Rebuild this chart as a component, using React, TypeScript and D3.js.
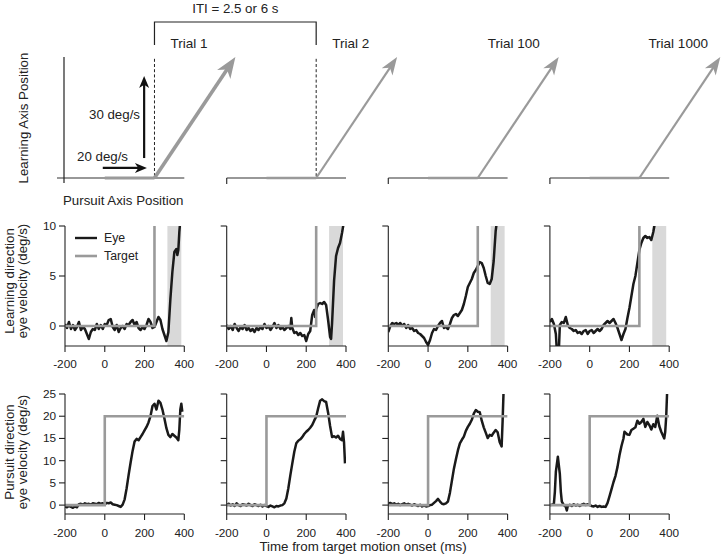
import React from 'react';
import * as d3 from 'd3';

// ---------- data ----------
const TIME_TICKS = [-200, 0, 200, 400];
const LEARN_TICKS = [0, 5, 10];
const PURSUIT_TICKS = [0, 5, 10, 15, 20, 25];
const TRIAL_LABELS = ['Trial 1', 'Trial 2', 'Trial 100', 'Trial 1000'];
const LEGEND_LABELS = ['Eye', 'Target'];
const TIME_DOMAIN = [-200, 400];
const LEARN_DOMAIN = [-2, 10];
const PURSUIT_DOMAIN = [-2, 25];
const SHADE_WINDOW = [315, 385];

// target velocity traces (ms, deg/s)
const targetLearn: [number, number][] = [[-200, 0], [250, 0], [250, 12]];
const targetPursuit: [number, number][] = [[-200, 0], [0, 0], [0, 20], [400, 20]];

// schematic (time ms, normalized position)
const schematicStepStart = 0;
const schematicStepEnd = 250;
const schematicArrowTip: [number, number] = [657, 1];

// learning-direction eye velocity, trials 1, 2, 100, 1000
const eyeLearn1: [number, number][] = [[-200,0.2],[-190,-0.2],[-180,0.4],[-170,-0.3],[-160,0.1],[-150,-0.4],[-140,-0.1],[-130,0.4],[-120,-0.4],[-110,-0.1],[-100,-0.3],[-90,-0.8],[-80,-1.3],[-70,-0.6],[-60,-0.3],[-50,-0.4],[-40,0.2],[-30,-0.3],[-20,0.1],[-10,-0.3],[0,0.2],[10,0.1],[20,0.6],[30,0.7],[40,-0.1],[50,-0.4],[60,0.1],[70,-0.6],[80,-0.2],[90,0],[100,-0.3],[110,0.2],[120,0.1],[130,0.4],[140,0.6],[150,0.1],[160,0.4],[170,-0.2],[180,-0.4],[190,-0.1],[200,-0.3],[210,0.1],[220,0.7],[230,0.4],[240,-0.2],[250,-0.1],[260,0.4],[270,0.9],[280,0.6],[290,-0.3],[300,-0.9],[310,-1.5],[320,-0.6],[330,2.7],[340,5.4],[350,7.4],[360,7.7],[365,7.1],[370,7.6],[375,9.4],[380,10.6]];
const eyeLearn2: [number, number][] = [[-200,0.1],[-190,-0.3],[-180,0.0],[-170,-0.4],[-160,0.2],[-150,-0.2],[-140,-0.5],[-130,-0.1],[-120,-0.3],[-110,0.1],[-100,-0.4],[-90,-0.2],[-80,-0.5],[-70,-0.3],[-60,-0.6],[-50,-0.2],[-40,-0.4],[-30,-0.1],[-20,-0.3],[-10,0.2],[0,-0.2],[10,0.0],[20,-0.4],[30,-0.1],[40,0.3],[50,-0.2],[60,0.1],[70,-0.3],[80,-0.1],[90,-0.4],[100,-0.2],[110,0.0],[120,-0.3],[125,0.8],[130,-0.2],[140,-0.7],[150,-0.6],[160,-0.9],[170,-0.7],[180,-1.0],[190,-0.9],[200,-1.5],[210,-0.8],[220,-0.5],[230,1.1],[240,1.6],[245,0.9],[250,1.7],[260,2.2],[270,2.3],[280,2.2],[290,2.4],[300,2.1],[310,0.6],[320,-1.1],[325,-1.3],[330,0.3],[340,4.5],[350,7.0],[360,7.8],[370,8.3],[380,9.3],[390,10.5]];
const eyeLearn100: [number, number][] = [[-200,-0.6],[-190,0.0],[-180,0.3],[-170,0.2],[-160,0.3],[-150,0.1],[-140,0.3],[-130,0.0],[-120,0.2],[-110,-0.2],[-100,0.1],[-90,-0.3],[-80,-0.2],[-70,-0.5],[-60,-0.4],[-50,-0.7],[-40,-0.8],[-30,-1.0],[-20,-1.2],[-10,-1.6],[0,-1.9],[10,-1.4],[20,-0.7],[30,-0.3],[40,-0.4],[50,0.0],[60,0.3],[70,0.5],[80,-0.2],[90,-0.1],[100,-0.3],[110,0.2],[120,0.8],[130,1.1],[140,1.2],[150,1.0],[160,1.3],[170,1.6],[180,2.2],[190,3.0],[200,3.9],[210,4.3],[220,4.7],[230,5.3],[240,5.6],[250,6.0],[260,6.4],[270,6.3],[280,5.8],[290,5.0],[300,4.3],[310,4.2],[320,4.7],[330,6.5],[340,9.5],[350,11]];
const eyeLearn1000: [number, number][] = [[-200,0.4],[-190,0.7],[-180,0.2],[-170,-0.8],[-165,-2.5],[-155,-2.5],[-150,0.1],[-140,0.4],[-130,0.3],[-120,0.9],[-110,0.1],[-100,-0.2],[-90,-0.3],[-80,-0.5],[-70,-0.4],[-60,-0.7],[-50,-0.6],[-40,-0.8],[-30,-0.5],[-20,-0.4],[-10,-0.8],[0,-0.5],[10,-0.4],[20,-0.7],[30,-0.5],[40,-0.3],[50,-0.5],[60,-0.3],[70,0.1],[80,0.3],[90,0.5],[100,0.3],[110,0.5],[120,0.7],[130,0.3],[140,-0.2],[150,-0.8],[160,-1.4],[170,-0.8],[180,-0.3],[190,0.8],[200,1.8],[210,3.0],[220,4.2],[230,5.0],[240,6.3],[250,7.6],[260,8.3],[270,8.8],[280,9.0],[290,8.8],[300,8.9],[310,8.6],[320,9.4],[330,10.5]];

// pursuit-direction eye velocity, trials 1, 2, 100, 1000
const eyePursuit1: [number, number][] = [[-200,-0.3],[-190,-0.5],[-180,-0.2],[-170,-0.4],[-160,-0.6],[-150,-0.3],[-140,-0.5],[-130,0.2],[-120,0.3],[-110,0.1],[-100,0.4],[-90,0.2],[-80,0.3],[-70,0.1],[-60,0.4],[-50,0.3],[-40,0.2],[-30,0.5],[-20,0.3],[-10,0.4],[0,0.2],[10,0.5],[20,0.4],[30,0.6],[40,0.2],[50,0.1],[60,0.0],[70,-0.2],[80,-0.4],[90,0.1],[100,1.3],[110,3.8],[120,6.8],[130,9.6],[140,12.2],[150,14.3],[160,14.9],[170,14.6],[180,15.3],[190,16.0],[200,16.8],[210,17.6],[220,18.6],[230,20.0],[240,22.3],[250,22.8],[260,21.5],[270,23.5],[280,23.0],[290,21.5],[300,19.5],[310,17.3],[320,15.8],[330,15.3],[340,16.0],[350,15.6],[360,15.2],[370,14.6],[375,17.0],[380,21.5],[385,22.8],[390,21.0]];
const eyePursuit2: [number, number][] = [[-200,0.0],[-190,0.3],[-180,-0.1],[-170,0.2],[-160,-0.2],[-150,0.4],[-140,0.0],[-130,-0.2],[-120,0.2],[-110,0.1],[-100,-0.1],[-90,0.3],[-80,0.0],[-70,-0.2],[-60,0.2],[-50,0.0],[-40,-0.2],[-30,0.1],[-20,-0.3],[-10,0.0],[0,-0.2],[10,-0.4],[20,-0.1],[30,-0.3],[40,-0.5],[50,-0.2],[60,-0.3],[70,-0.1],[80,0.0],[90,0.4],[100,1.5],[110,3.8],[120,6.7],[130,9.4],[140,12.0],[150,13.9],[160,14.5],[170,14.8],[180,15.3],[190,16.0],[200,16.5],[210,16.9],[220,17.4],[230,18.0],[240,19.0],[250,19.9],[260,21.8],[270,23.5],[280,23.8],[290,23.4],[300,23.2],[310,20.8],[320,17.8],[330,15.3],[340,15.5],[350,15.2],[360,15.6],[370,14.9],[380,14.6],[385,16.5],[390,14.2],[395,9.4]];
const eyePursuit100: [number, number][] = [[-200,0.3],[-190,0.5],[-180,0.2],[-170,0.4],[-160,0.1],[-150,0.3],[-140,0.0],[-130,0.2],[-120,0.4],[-110,0.1],[-100,0.3],[-90,0.1],[-80,-0.1],[-70,0.2],[-60,0.0],[-50,-0.2],[-40,0.1],[-30,-0.3],[-20,-0.1],[-10,-0.3],[0,-0.2],[10,0.0],[20,0.1],[30,0.5],[40,0.9],[50,1.4],[60,0.8],[70,0.3],[80,0.2],[90,0.4],[100,0.8],[110,2.8],[120,5.5],[130,8.2],[140,10.3],[150,12.3],[160,13.9],[170,14.7],[180,15.4],[190,16.7],[200,17.6],[210,18.3],[220,19.2],[230,20.6],[240,21.4],[250,21.0],[260,20.9],[270,19.0],[280,17.5],[290,16.3],[300,15.1],[310,15.8],[320,15.6],[330,16.3],[340,16.9],[350,16.4],[360,14.2],[370,13.2],[375,19.0],[380,26]];
const eyePursuit1000: [number, number][] = [[-200,0.0],[-190,0.1],[-180,0.3],[-175,3.0],[-170,7.5],[-160,10.9],[-150,7.0],[-145,3.0],[-140,0.8],[-130,0.0],[-120,-0.4],[-115,-1.2],[-110,-0.2],[-100,0.1],[-90,-0.2],[-80,0.2],[-70,-0.1],[-60,0.1],[-50,-0.2],[-40,0.1],[-30,0.3],[-20,0.0],[-10,0.2],[0,0.0],[10,-0.2],[20,-0.3],[30,-0.1],[40,-0.4],[50,-0.2],[60,-0.4],[70,-0.3],[80,-0.4],[90,0.5],[100,2.0],[110,3.6],[120,5.2],[130,6.6],[140,8.6],[150,11.2],[160,13.3],[170,15.0],[175,16.5],[180,16.3],[190,15.9],[200,15.8],[210,16.9],[220,17.2],[230,17.5],[240,19.0],[250,18.3],[260,18.7],[270,19.4],[280,17.6],[290,18.7],[300,18.0],[310,17.0],[320,18.2],[330,17.6],[340,20.1],[350,17.8],[360,16.5],[370,15.5],[375,15.0],[380,16.5],[385,20.0],[390,26]];

const EYE_LEARN = [eyeLearn1, eyeLearn2, eyeLearn100, eyeLearn1000];
const EYE_PURSUIT = [eyePursuit1, eyePursuit2, eyePursuit100, eyePursuit1000];

// ---------- layout ----------
const W = 722;
const H = 556;
const FONT = '"Liberation Sans", Arial, Helvetica, sans-serif';
const PANEL_LEFT = [65, 226.7, 388.3, 549.9];
const PANEL_W = 119.3;
const EYE_COLOR = '#1a1a1a';
const TARGET_COLOR = '#9a9a9a';
const SHADE_COLOR = '#d9d9d9';
const AXIS_COLOR = '#222';
const TEXT_COLOR = '#222';

function arrowHead(tx: number, ty: number, fx: number, fy: number, L: number, Wd: number) {
  const dx = tx - fx, dy = ty - fy;
  const len = Math.hypot(dx, dy);
  const ux = dx / len, uy = dy / len;
  const nx = -uy, ny = ux;
  const bx = tx - L * ux, by = ty - L * uy;
  const mx = tx - 0.72 * L * ux, my = ty - 0.72 * L * uy;
  return {
    d: `M${tx},${ty}L${bx + nx * Wd / 2},${by + ny * Wd / 2}L${mx},${my}L${bx - nx * Wd / 2},${by - ny * Wd / 2}Z`,
    nx: mx + 0.1 * L * ux,
    ny: my + 0.1 * L * uy,
  };
}

function Arrow({ x1, y1, x2, y2, color, sw, L, Wd }: any) {
  const h = arrowHead(x2, y2, x1, y1, L, Wd);
  return (
    <g>
      <line x1={x1} y1={y1} x2={h.nx} y2={h.ny} stroke={color} strokeWidth={sw} />
      <path d={h.d} fill={color} stroke="none" />
    </g>
  );
}

export default function App() {
  const xs = PANEL_LEFT.map((l) => d3.scaleLinear().domain(TIME_DOMAIN).range([l, l + PANEL_W]));
  const yL = d3.scaleLinear().domain(LEARN_DOMAIN).range([346, 226]);
  const yP = d3.scaleLinear().domain(PURSUIT_DOMAIN).range([514, 394]);
  const yT = d3.scaleLinear().domain([0, 1]).range([178, 57]);

  const panelRow = (row: 'learn' | 'pursuit') => {
    const y = row === 'learn' ? yL : yP;
    const ticks = row === 'learn' ? LEARN_TICKS : PURSUIT_TICKS;
    const eyes = row === 'learn' ? EYE_LEARN : EYE_PURSUIT;
    const target = row === 'learn' ? targetLearn : targetPursuit;
    const yTop = y(y.domain()[1]);
    const yBot = y(y.domain()[0]);
    const labelBase = row === 'learn' ? 367.5 : 536.5;
    return xs.map((x, i) => {
      const line = d3.line<[number, number]>().x((d) => x(d[0])).y((d) => y(d[1]));
      const cid = `clip-${row}-${i}`;
      return (
        <g key={cid}>
          <defs>
            <clipPath id={cid}>
              <rect x={x(-200)} y={yTop} width={x(400) - x(-200)} height={yBot - yTop} />
            </clipPath>
          </defs>
          {row === 'learn' && (
            <rect x={x(SHADE_WINDOW[0])} y={yTop} width={x(SHADE_WINDOW[1]) - x(SHADE_WINDOW[0])} height={yBot - yTop} fill={SHADE_COLOR} />
          )}
          <g clipPath={`url(#${cid})`}>
            <path d={line(eyes[i]) || ''} fill="none" stroke={EYE_COLOR} strokeWidth={2.5} strokeLinejoin="round" />
            <path d={line(target) || ''} fill="none" stroke={TARGET_COLOR} strokeWidth={2.6} />
          </g>
          {/* y axis */}
          <line x1={x(-200)} x2={x(-200)} y1={yTop} y2={yBot} stroke={AXIS_COLOR} strokeWidth={1.1} />
          {ticks.map((t) => (
            <g key={t}>
              <line x1={x(-200) - 6} x2={x(-200)} y1={y(t)} y2={y(t)} stroke={AXIS_COLOR} strokeWidth={1.1} />
              {i === 0 && (
                <text x={x(-200) - 9} y={y(t) + 4} textAnchor="end" fontSize={11.8} fill={TEXT_COLOR}>{t}</text>
              )}
            </g>
          ))}
          {/* x axis */}
          <line x1={x(-200)} x2={x(400)} y1={yBot} y2={yBot} stroke={AXIS_COLOR} strokeWidth={1.1} />
          {TIME_TICKS.map((t) => (
            <g key={t}>
              <line x1={x(t)} x2={x(t)} y1={yBot} y2={yBot + 6} stroke={AXIS_COLOR} strokeWidth={1.1} />
              <text x={x(t)} y={labelBase} textAnchor="middle" fontSize={11.8} fill={TEXT_COLOR}>{t}</text>
            </g>
          ))}
        </g>
      );
    });
  };

  const trialOffsets = [16, 16, 10, 9];

  return (
    <svg width={W} height={H} style={{ position: 'absolute', left: 0, top: 0, background: '#fff' }} fontFamily={FONT}>
      <rect width={W} height={H} fill="#fff" />
      {/* ---------- schematic row ---------- */}
      <text x={(xs[0](250) + xs[1](250)) / 2} y={12.5} textAnchor="middle" fontSize={13.3} fill={TEXT_COLOR}>ITI = 2.5 or 6 s</text>
      <path d={`M${xs[0](250)},45V22H${xs[1](250)}V45`} fill="none" stroke={AXIS_COLOR} strokeWidth={1.2} />
      {xs.map((x, i) => {
        const x0 = x(-200);
        return (
          <g key={`top-${i}`}>
            <text x={x(250) + trialOffsets[i]} y={47.5} fontSize={13.5} fill={TEXT_COLOR}>{TRIAL_LABELS[i]}</text>
            {i === 0 ? (
              <g>
                <line x1={x0 - 8} x2={x(400)} y1={yT(0)} y2={yT(0)} stroke="#333" strokeWidth={1.2} />
                <line x1={x0 - 1} x2={x0 - 1} y1={yT(1)} y2={yT(0) + 5} stroke="#222" strokeWidth={1.2} />
              </g>
            ) : (
              <g>
                <line x1={x0} x2={x(400)} y1={yT(0)} y2={yT(0)} stroke="#333" strokeWidth={1.2} />
                <line x1={x0} x2={x0} y1={yT(0)} y2={yT(0) + 6} stroke="#333" strokeWidth={1.2} />
              </g>
            )}
            {i < 2 && (
              <line x1={x(250)} x2={x(250)} y1={yT(0.985)} y2={yT(0)} stroke="#222" strokeWidth={1} strokeDasharray="3,2.2" />
            )}
            <line x1={x(schematicStepStart)} x2={x(schematicStepEnd)} y1={yT(0)} y2={yT(0)} stroke={TARGET_COLOR} strokeWidth={i === 0 ? 3 : 2.5} />
            <Arrow
              x1={x(schematicStepEnd)} y1={yT(0)}
              x2={x(schematicArrowTip[0])} y2={yT(schematicArrowTip[1])}
              color={TARGET_COLOR} sw={i === 0 ? 3.6 : 2.2} L={i === 0 ? 21 : 18} Wd={i === 0 ? 16 : 13}
            />
          </g>
        );
      })}
      {/* velocity arrows on trial 1 */}
      <Arrow x1={xs[0](-10)} y1={yT(0.083)} x2={xs[0](212)} y2={yT(0.083)} color="#111" sw={2.2} L={12} Wd={10} />
      <Arrow x1={xs[0](198)} y1={yT(0.165)} x2={xs[0](198)} y2={yT(0.843)} color="#111" sw={2.2} L={12} Wd={10} />
      <text x={77} y={160.5} fontSize={13.3} fill={TEXT_COLOR}>20 deg/s</text>
      <text x={140} y={118.5} fontSize={13.3} fill={TEXT_COLOR} textAnchor="end">30 deg/s</text>
      <text transform="translate(28,118) rotate(-90)" textAnchor="middle" fontSize={13.3} fill={TEXT_COLOR}>Learning Axis Position</text>
      <text x={xs[0](-200) - 2} y={204.5} fontSize={13.3} fill={TEXT_COLOR}>Pursuit Axis Position</text>

      {/* ---------- velocity rows ---------- */}
      {panelRow('learn')}
      {panelRow('pursuit')}

      {/* legend */}
      <line x1={75} x2={97} y1={238} y2={238} stroke={EYE_COLOR} strokeWidth={2.4} />
      <line x1={75} x2={97} y1={256} y2={256} stroke={TARGET_COLOR} strokeWidth={2.6} />
      <text x={104} y={242} fontSize={12.3} fill={TEXT_COLOR}>{LEGEND_LABELS[0]}</text>
      <text x={104} y={260} fontSize={12.3} fill={TEXT_COLOR}>{LEGEND_LABELS[1]}</text>

      {/* y labels */}
      <text transform="translate(14,281) rotate(-90)" textAnchor="middle" fontSize={13.3} fill={TEXT_COLOR}>Learning direction</text>
      <text transform="translate(26.5,281) rotate(-90)" textAnchor="middle" fontSize={13.3} fill={TEXT_COLOR}>eye velocity (deg/s)</text>
      <text transform="translate(14,452) rotate(-90)" textAnchor="middle" fontSize={13.3} fill={TEXT_COLOR}>Pursuit direction</text>
      <text transform="translate(26.5,452) rotate(-90)" textAnchor="middle" fontSize={13.3} fill={TEXT_COLOR}>eye velocity (deg/s)</text>
      <text x={363} y={551} textAnchor="middle" fontSize={13.3} fill={TEXT_COLOR}>Time from target motion onset (ms)</text>
    </svg>
  );
}
